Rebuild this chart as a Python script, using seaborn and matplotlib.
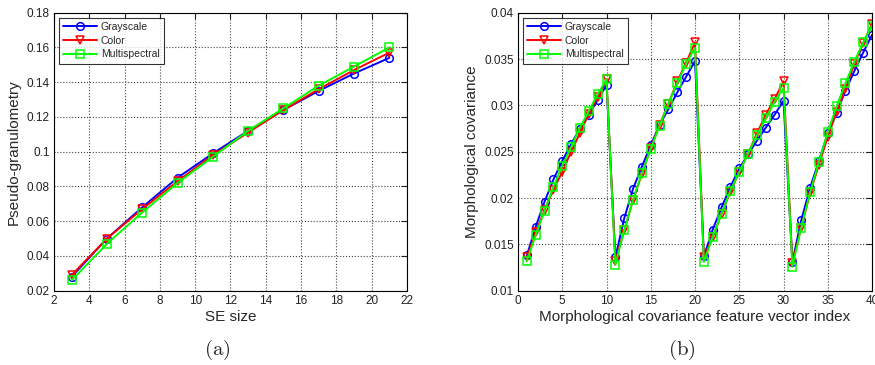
import numpy as np
import pandas as pd
import matplotlib
matplotlib.use('Agg')
import matplotlib.pyplot as plt
import seaborn as sns

# (a) pseudo-granulometry
se_size = [3, 5, 7, 9, 11, 13, 15, 17, 19, 21]
gran_gray = [0.028, 0.050, 0.068, 0.085, 0.099, 0.112, 0.124, 0.135, 0.145, 0.154]
gran_color = [0.029, 0.050, 0.067, 0.083, 0.098, 0.111, 0.124, 0.136, 0.147, 0.157]
gran_multi = [0.026, 0.047, 0.065, 0.082, 0.097, 0.112, 0.125, 0.138, 0.149, 0.160]

# (b) morphological covariance
cov_index = list(range(1, 41))
cov_gray = [0.0138, 0.0169, 0.0196, 0.0220, 0.0240, 0.0258, 0.0275, 0.0290, 0.0306, 0.0322,
            0.0136, 0.0178, 0.0210, 0.0234, 0.0257, 0.0279, 0.0296, 0.0314, 0.0331, 0.0348,
            0.0137, 0.0166, 0.0190, 0.0212, 0.0232, 0.0247, 0.0262, 0.0276, 0.0290, 0.0305,
            0.0131, 0.0176, 0.0211, 0.0240, 0.0270, 0.0292, 0.0316, 0.0337, 0.0357, 0.0376]
cov_color = [0.0136, 0.0163, 0.0187, 0.0209, 0.0228, 0.0250, 0.0270, 0.0291, 0.0309, 0.0328,
             0.0132, 0.0165, 0.0198, 0.0226, 0.0254, 0.0279, 0.0302, 0.0326, 0.0346, 0.0368,
             0.0136, 0.0158, 0.0183, 0.0207, 0.0228, 0.0248, 0.0270, 0.0290, 0.0307, 0.0326,
             0.0130, 0.0168, 0.0205, 0.0236, 0.0266, 0.0293, 0.0318, 0.0345, 0.0367, 0.0388]
cov_multi = [0.0132, 0.0160, 0.0186, 0.0212, 0.0235, 0.0255, 0.0276, 0.0294, 0.0312, 0.0328,
             0.0128, 0.0165, 0.0198, 0.0227, 0.0253, 0.0278, 0.0302, 0.0324, 0.0345, 0.0362,
             0.0131, 0.0158, 0.0183, 0.0208, 0.0228, 0.0248, 0.0268, 0.0286, 0.0304, 0.0319,
             0.0126, 0.0168, 0.0206, 0.0239, 0.0271, 0.0299, 0.0324, 0.0347, 0.0368, 0.0386]

labels = ['Grayscale', 'Color', 'Multispectral']
colors = ['#0000ff', '#ff0000', '#00ff00']
markers = ['o', 'v', 's']

sns.set_style('white')
plt.rcParams['font.family'] = ['Liberation Sans', 'DejaVu Sans']
plt.rcParams['mathtext.fontset'] = 'cm'

fig = plt.figure(figsize=(8.75, 3.65), dpi=100)
ax1 = fig.add_axes([0.0617, 0.2036, 0.4034, 0.7616])
ax2 = fig.add_axes([0.592, 0.2036, 0.4046, 0.7616])


def draw(ax, x, series):
    for y, lab, c, m in zip(series, labels, colors, markers):
        sns.lineplot(x=x, y=y, ax=ax, color=c, marker=m, markersize=5.5,
                     markerfacecolor='none', markeredgecolor=c, markeredgewidth=1.1,
                     linewidth=1.4, label=lab)
    ax.grid(True, linestyle=':', color='#444444', linewidth=0.8)
    ax.tick_params(direction='in', top=True, right=True, length=4, labelsize=8.5,
                   pad=3, colors='#222222')
    for s in ax.spines.values():
        s.set_color('black')
        s.set_linewidth(0.8)
    leg = ax.legend(loc='upper left', fontsize=7.5, frameon=True, fancybox=False,
                    edgecolor='black', handlelength=3.2, borderpad=0.4,
                    labelspacing=0.35, handletextpad=0.4, borderaxespad=0.5)
    leg.get_frame().set_linewidth(0.8)


draw(ax1, se_size, [gran_gray, gran_color, gran_multi])
ax1.set_xlim(2, 22)
ax1.set_ylim(0.02, 0.18)
ax1.set_xticks(np.arange(2, 23, 2))
ax1.set_yticks(np.arange(0.02, 0.181, 0.02))
ax1.set_yticklabels(['0.02', '0.04', '0.06', '0.08', '0.1', '0.12', '0.14', '0.16', '0.18'])
ax1.set_xlabel('SE size', fontsize=11, labelpad=2)
ax1.set_ylabel('Pseudo-granulometry', fontsize=11, labelpad=4)

draw(ax2, cov_index, [cov_gray, cov_color, cov_multi])
ax2.set_xlim(0, 40)
ax2.set_ylim(0.01, 0.04)
ax2.set_xticks(np.arange(0, 41, 5))
ax2.set_yticks(np.arange(0.01, 0.0401, 0.005))
ax2.set_yticklabels(['0.01', '0.015', '0.02', '0.025', '0.03', '0.035', '0.04'])
ax2.set_xlabel('Morphological covariance feature vector index', fontsize=11, labelpad=2)
ax2.set_ylabel('Morphological covariance', fontsize=11, labelpad=4)

fig.text(0.2485, 0.04, r'$\mathrm{(a)}$', ha='center', va='center', fontsize=15)
fig.text(0.7795, 0.04, r'$\mathrm{(b)}$', ha='center', va='center', fontsize=15)

fig.savefig('out.png', dpi=100)
